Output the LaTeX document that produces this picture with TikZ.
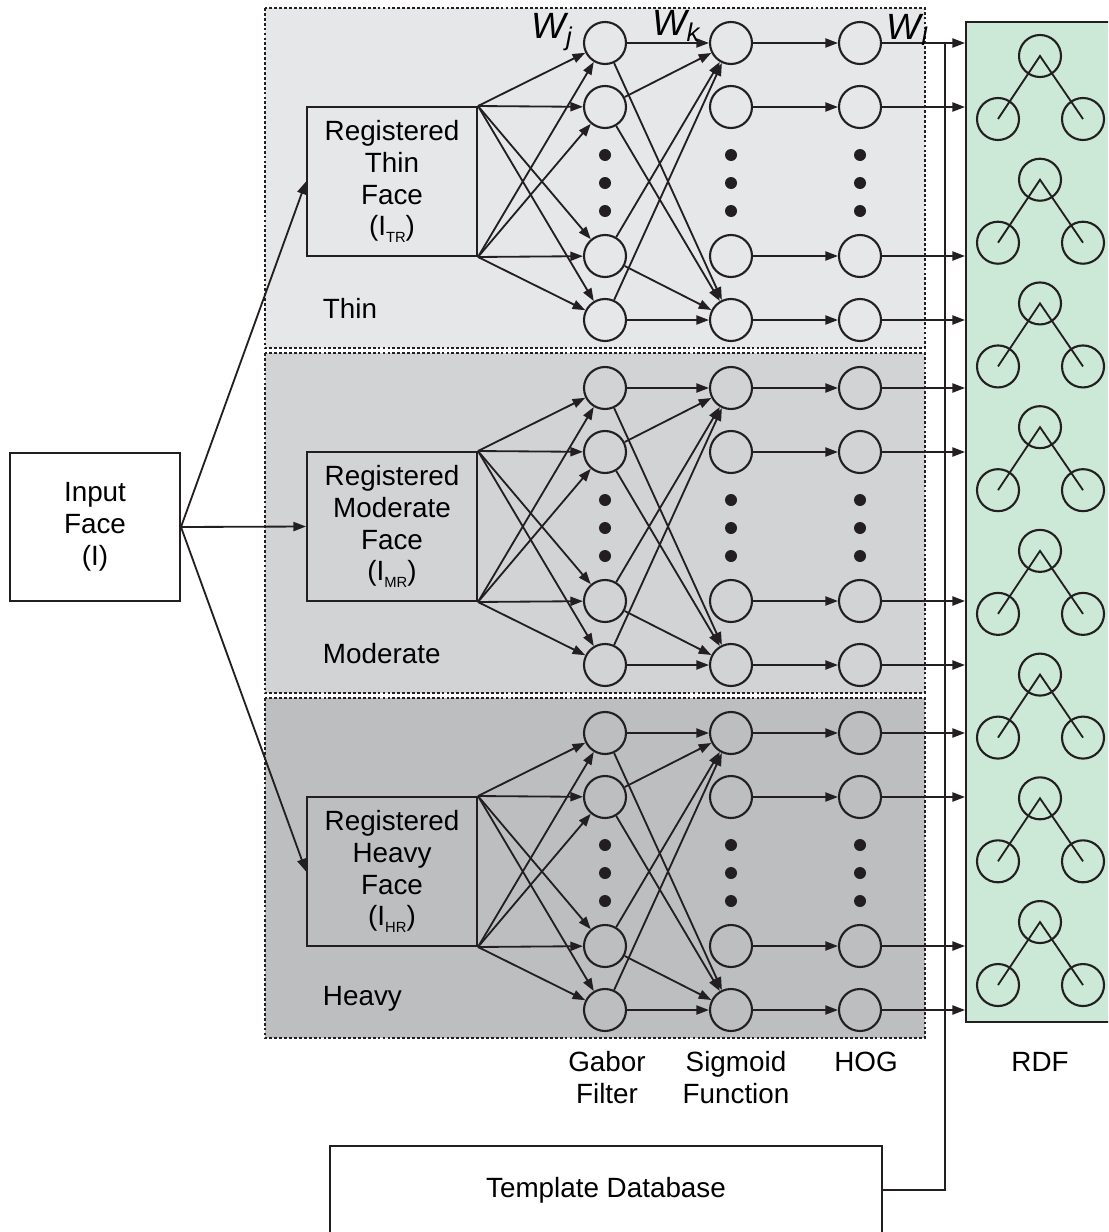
\documentclass[tikz,border=0pt]{standalone}
\usepackage{fontspec}
\setmainfont{Liberation Sans}
\usepackage{tikz}
\usetikzlibrary{arrows.meta, calc}
\definecolor{thinfill}{RGB}{230,231,232}
\definecolor{modfill}{RGB}{209,211,212}
\definecolor{heavyfill}{RGB}{188,190,192}
\definecolor{rdfgreen}{RGB}{204,232,215}
\definecolor{inkline}{RGB}{35,31,32}
\newcommand{\lowsub}[1]{\raisebox{-0.45ex}{\fontsize{10.5}{10.5}\selectfont #1}}

\begin{document}
\begin{tikzpicture}[
  font=\fontsize{19.8}{22.6}\selectfont,
  neuron/.style={draw=inkline, circle, line width=1.5pt,
                 minimum size=1.05cm, inner sep=0pt},
  treenode/.style={draw=inkline, circle, line width=1.5pt,
                   minimum size=1.05cm, inner sep=0pt},
  regbox/.style={draw=inkline, line width=1.4pt, minimum width=4.25cm,
                 minimum height=3.725cm, align=center, inner sep=0pt},
  conn/.style={draw=inkline, line width=1.3pt,
               -{Triangle[length=9pt,width=6.5pt]}},
  wire/.style={draw=inkline, line width=1.3pt},
  panel/.style={draw=inkline, line width=0.9pt, dash pattern=on 2pt off 1.5pt},
  dotnode/.style={circle, fill=inkline, minimum size=0.3cm, inner sep=0pt},
  wlbl/.style={font=\fontsize{26}{30}\selectfont\itshape},
]
\clip (0,0) rectangle (27.7,-30.8);

%% RDF column with its trees
\node[draw=inkline, fill=rdfgreen, line width=1.4pt, minimum width=3.65cm,
      minimum height=25cm, inner sep=0pt] (rdf) at (25.975,-13.05) {};
\foreach \k in {0,...,7}{
  \pgfmathsetmacro\ty{-1.4-3.093*\k}
  \node[treenode] (t\k-root) at (26.0,\ty) {};
  \node[treenode] (t\k-left) at (24.95,\ty-1.575) {};
  \node[treenode] (t\k-right) at (27.075,\ty-1.575) {};
  \draw[wire] (t\k-left.center) -- (t\k-root.center) -- (t\k-right.center);
}

%% Three panels: thin, moderate, heavy
\foreach \p/\pn/\pfill/\ptext/\psub in {0/thin/thinfill/Thin/TR,
    1/mod/modfill/Moderate/MR, 2/heavy/heavyfill/Heavy/HR}{
  \pgfmathsetmacro\yo{-8.625*\p}
  \fill[\pfill] (6.625,\yo-0.2) rectangle (23.125,\yo-8.7);
  \draw[panel] (6.625,\yo-0.2) rectangle (23.125,\yo-8.7);
  \node[anchor=west] (\pn-lbl) at (7.95,\yo-7.72) {\ptext};
  \node[regbox] (\pn-reg) at (9.8,\yo-4.5375)
    {Registered\\\ptext\\Face\\(I\lowsub{\psub})};
  % neuron columns
  \foreach \r/\ry in {1/1.075, 2/2.675, 4/6.4, 5/8.0}{
    \node[neuron] (\pn-g\r) at (15.125,\yo-\ry) {};
    \node[neuron] (\pn-s\r) at (18.275,\yo-\ry) {};
    \node[neuron] (\pn-h\r) at (21.5,\yo-\ry) {};
  }
  \foreach \d/\dy in {1/3.875, 2/4.575, 3/5.275}{
    \node[dotnode] (\pn-gd\d) at (15.125,\yo-\dy) {};
    \node[dotnode] (\pn-sd\d) at (18.275,\yo-\dy) {};
    \node[dotnode] (\pn-hd\d) at (21.5,\yo-\dy) {};
  }
  % connections
  \foreach \r in {1,2,4,5}{
    \draw[conn] (\pn-reg.north east) -- (\pn-g\r);
    \draw[conn] (\pn-reg.south east) -- (\pn-g\r);
    \draw[conn] (\pn-g\r) -- (\pn-s1);
    \draw[conn] (\pn-g\r) -- (\pn-s5);
    \draw[conn] (\pn-s\r) -- (\pn-h\r);
    \draw[conn] (\pn-h\r) -- (\pn-h\r -| rdf.west);
  }
}

%% Input face
\node[draw=inkline, fill=white, line width=1.4pt, minimum width=4.25cm,
      minimum height=3.7cm, align=center, inner sep=0pt] (input)
  at (2.375,-13.175) {Input\\Face\\(I)};
\foreach \pn in {thin, mod, heavy}{
  \draw[conn] (input.east) -- (\pn-reg.west);
}

%% Weight labels
\node[wlbl] (wj) at (13.8,-0.8) {W\textsubscript{j}};
\node[wlbl] (wk) at (16.9,-0.65) {W\textsubscript{k}};
\node[wlbl] (wl) at (22.68,-0.75) {W\textsubscript{l}};

%% Column labels
\node[align=center] (gabor-lbl) at (15.175,-26.94) {Gabor\\Filter};
\node[align=center] (sig-lbl) at (18.4,-26.94) {Sigmoid\\Function};
\node (hog-lbl) at (21.65,-26.55) {HOG};
\node (rdf-lbl) at (26.0,-26.55) {RDF};

%% Template database feeding the RDF
\node[draw=inkline, line width=1.4pt, minimum width=13.8cm,
      minimum height=2.2cm, inner sep=0pt] (db) at (15.15,-29.75)
  {Template Database};
\coordinate (bus-top) at (23.625,-1.075);
\draw[wire] (db.east) -| (bus-top);
\end{tikzpicture}
\end{document}
